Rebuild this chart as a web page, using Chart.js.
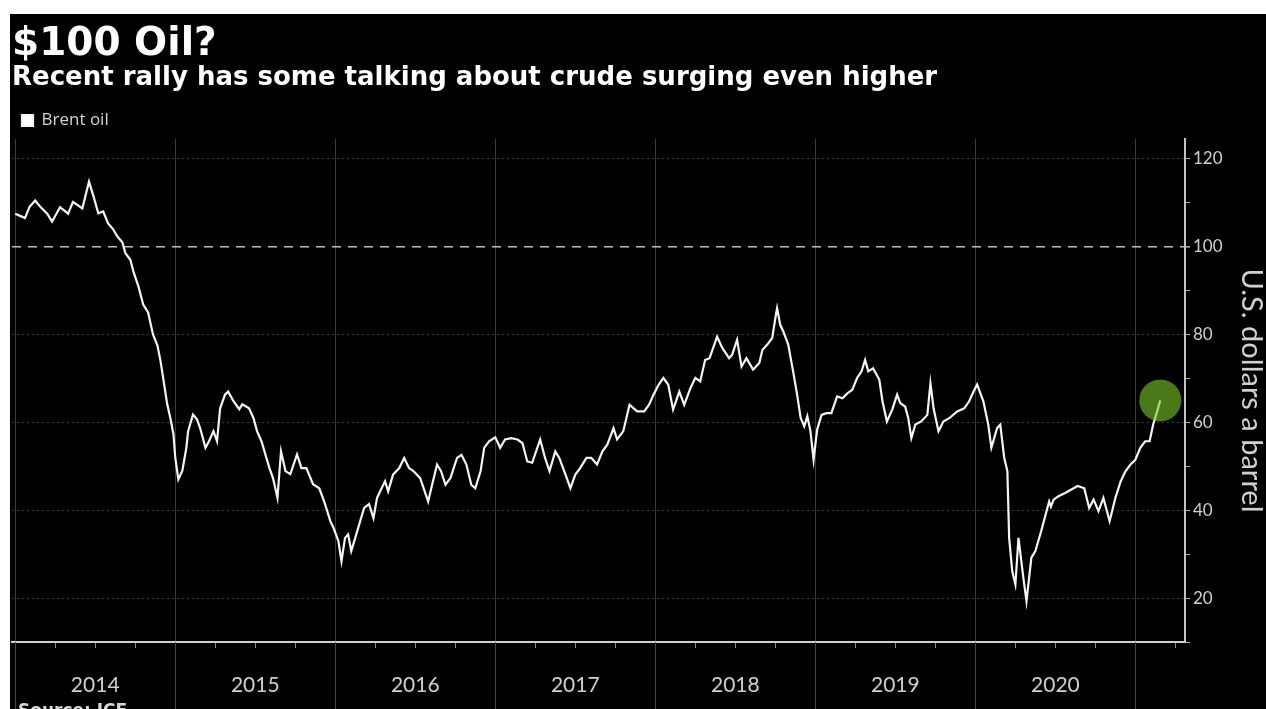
<!DOCTYPE html>
<html>
<head>
<meta charset="utf-8">
<title>$100 Oil?</title>
<script src="https://cdn.jsdelivr.net/npm/chart.js@4.4.0/dist/chart.umd.min.js"></script>
<style>
  html, body { margin: 0; padding: 0; background: #fff; width: 1266px; height: 709px; overflow: hidden; }
  #frame { position: absolute; left: 10px; top: 14px; width: 1256px; height: 695px; background: #000; overflow: hidden; }
  #chartBox { position: absolute; left: 0; top: 0; width: 1256px; height: 695px; }
  #source { position: absolute; left: 8px; top: 688px; color: #d8d8d8; font: bold 17px "DejaVu Sans", sans-serif; line-height: 1; }
</style>
</head>
<body>
<div id="frame">
  <div id="chartBox"><canvas id="oilChart"></canvas></div>
  <div id="source">Source: ICE</div>
</div>
<script>
// Brent crude, USD per barrel
const dates2014 = ['2014-01-01','2014-01-12','2014-01-23','2014-02-03','2014-02-16','2014-02-28','2014-03-13','2014-03-24',
  '2014-04-12','2014-04-30','2014-05-11','2014-06-02','2014-06-17','2014-06-27','2014-07-08','2014-07-19','2014-07-30',
  '2014-08-11','2014-08-21','2014-09-02','2014-09-09','2014-09-20','2014-09-27','2014-10-08','2014-10-19','2014-10-30',
  '2014-11-11','2014-11-21','2014-11-28','2014-12-13','2014-12-20','2014-12-27'];
const brent2014 = [107.5, 107, 106.5, 109, 110.5, 109, 107.5, 105.7, 109, 107.5, 110.2, 108.7, 114.8, 111.5, 107.6, 108, 105.3,
  104, 102.3, 101, 98.5, 97, 94.3, 91, 86.8, 85, 80, 77.5, 73.9, 64.1, 61, 57.3];

const dates2015 = ['2015-01-01','2015-01-08','2015-01-17','2015-01-26','2015-01-30','2015-02-11','2015-02-20','2015-02-27',
  '2015-03-09','2015-03-17','2015-03-27','2015-04-05','2015-04-12','2015-04-23','2015-04-30','2015-05-11','2015-05-25',
  '2015-06-02','2015-06-17','2015-06-27','2015-07-05','2015-07-15','2015-07-26','2015-08-03','2015-08-11','2015-08-21',
  '2015-08-29','2015-09-09','2015-09-20','2015-10-05','2015-10-15','2015-10-26','2015-11-11','2015-11-25','2015-12-06',
  '2015-12-20','2015-12-27'];
const brent2015 = [52, 47, 49, 54.2, 58, 61.8, 60.7, 58.7, 54.2, 55.7, 58, 55.7, 63.2, 66.3, 67, 65, 63, 64.1, 63.2, 61,
  58, 55.7, 51.9, 49.6, 47.3, 42.8, 53.4, 48.9, 48.2, 52.7, 49.6, 49.6, 45.9, 45, 42, 37.5, 36];

const dates2016 = ['2016-01-08','2016-01-15','2016-01-23','2016-01-30','2016-02-07','2016-02-16','2016-02-27','2016-03-06',
  '2016-03-17','2016-03-27','2016-04-05','2016-04-12','2016-04-23','2016-04-30','2016-05-11','2016-05-25','2016-06-06',
  '2016-06-17','2016-06-27','2016-07-12','2016-07-30','2016-08-07','2016-08-20','2016-08-29','2016-09-09','2016-09-20',
  '2016-10-05','2016-10-15','2016-10-26','2016-11-07','2016-11-16','2016-11-28','2016-12-06','2016-12-17'];
const brent2016 = [33, 28.4, 33.7, 34.5, 30.7, 33.7, 37.5, 40.5, 41.4, 38.2, 42.8, 44.3, 46.6, 44.3, 48.1, 49.6, 51.9,
  49.6, 48.9, 47.3, 42, 45, 50.4, 48.9, 45.8, 47.3, 51.9, 52.6, 50.4, 45.8, 45, 48.9, 54.2, 55.7];

const dates2017 = ['2017-01-01','2017-01-12','2017-01-23','2017-02-07','2017-02-21','2017-03-02','2017-03-13','2017-03-24',
  '2017-04-12','2017-04-23','2017-05-03','2017-05-16','2017-05-25','2017-06-09','2017-06-20','2017-07-01','2017-07-12',
  '2017-07-26','2017-08-07','2017-08-20','2017-09-02','2017-09-13','2017-09-27','2017-10-05','2017-10-19','2017-11-03',
  '2017-11-20','2017-12-06','2017-12-17','2017-12-27'];
const brent2017 = [56.6, 54.2, 56.1, 56.4, 56.1, 55.3, 51.1, 50.8, 56.1, 51.9, 48.9, 53.4, 51.9, 48.1, 45, 48.1, 49.6,
  51.9, 51.9, 50.4, 53.4, 54.9, 58.7, 56.1, 58, 64, 62.5, 62.5, 64, 66.3];

const dates2018 = ['2018-01-08','2018-01-19','2018-01-30','2018-02-11','2018-02-25','2018-03-06','2018-03-20','2018-04-01',
  '2018-04-12','2018-04-23','2018-05-03','2018-05-20','2018-06-02','2018-06-17','2018-06-24','2018-07-05','2018-07-15',
  '2018-07-26','2018-08-11','2018-08-25','2018-09-02','2018-09-13','2018-09-24','2018-10-01','2018-10-05','2018-10-12',
  '2018-10-19','2018-10-30','2018-11-11','2018-11-20','2018-11-28','2018-12-06','2018-12-13','2018-12-20','2018-12-27'];
const brent2018 = [68.5, 70.1, 68.6, 62.9, 67, 64, 67.8, 70.1, 69.3, 74.2, 74.6, 79.5, 76.9, 74.6, 75.4, 78.8, 72.7,
  74.6, 72, 73.5, 76.5, 77.7, 79.2, 83.7, 86, 82.2, 80.7, 77.7, 71.6, 66.3, 61, 59.1, 61.4, 58, 51.5];

const dates2019 = ['2019-01-05','2019-01-15','2019-01-26','2019-02-07','2019-02-20','2019-03-02','2019-03-13','2019-03-24',
  '2019-04-05','2019-04-15','2019-04-23','2019-04-30','2019-05-11','2019-05-25','2019-06-02','2019-06-12','2019-06-24',
  '2019-07-05','2019-07-12','2019-07-23','2019-07-30','2019-08-07','2019-08-16','2019-08-29','2019-09-13','2019-09-20',
  '2019-09-27','2019-10-08','2019-10-19','2019-11-03','2019-11-20','2019-12-06','2019-12-17','2019-12-27'];
const brent2019 = [58.3, 61.7, 62.1, 62.1, 65.9, 65.5, 66.6, 67.4, 70.1, 71.6, 74.2, 71.6, 72.3, 69.7, 64.8, 60.2, 62.9,
  66.3, 64.4, 63.6, 61, 56.4, 59.5, 60.2, 61.7, 68.9, 63.2, 58, 60.2, 61, 62.5, 63.2, 64.8, 67];

const dates2020 = ['2020-01-05','2020-01-19','2020-01-30','2020-02-07','2020-02-20','2020-02-27','2020-03-06','2020-03-13',
  '2020-03-17','2020-03-24','2020-04-01','2020-04-08','2020-04-19','2020-04-26','2020-05-07','2020-05-16','2020-05-29',
  '2020-06-09','2020-06-17','2020-06-21','2020-06-27','2020-07-08','2020-07-23','2020-08-07','2020-08-21','2020-09-06',
  '2020-09-17','2020-09-27','2020-10-08','2020-10-19','2020-11-03','2020-11-16','2020-11-28','2020-12-09','2020-12-20'];
const brent2020 = [68.6, 64.8, 59.5, 54.2, 58.7, 59.5, 51.9, 48.9, 33.7, 26.1, 23.1, 33.7, 24.6, 19.3, 29.2, 30.7, 35.2,
  39, 42, 40.8, 42.4, 43.2, 43.9, 44.7, 45.5, 45, 40.5, 42.4, 39.8, 42.8, 37.5, 42.8, 46.6, 48.9, 50.4];

const dates2021 = ['2021-01-01','2021-01-12','2021-01-23','2021-02-03','2021-02-11','2021-02-20','2021-02-27'];
const brent2021 = [51.5, 54.2, 55.7, 55.7, 59.5, 62.5, 65];

const yearLabels = [2014, 2015, 2016, 2017, 2018, 2019, 2020];
const yTickValues = [10, 20, 30, 40, 50, 60, 70, 80, 90, 100, 110, 120];

// date string -> fractional year for the linear x axis
function toYear(d) {
  const [y, m, day] = d.split('-').map(Number);
  return y + (m - 1) / 12 + (day - 1) / 360;
}

const allDates = [].concat(dates2014, dates2015, dates2016, dates2017, dates2018, dates2019, dates2020, dates2021);
const allPrices = [].concat(brent2014, brent2015, brent2016, brent2017, brent2018, brent2019, brent2020, brent2021);
const points = allDates.map((d, i) => ({ x: toYear(d), y: allPrices[i] }));
const lastPoint = points[points.length - 1];

// quarter ticks for the bottom axis
const quarterTicks = [];
yearLabels.concat([2021]).forEach(y => {
  [0, 0.25, 0.5, 0.75].forEach(q => { if (y + q < 2021.3) quarterTicks.push(y + q); });
});

const isWhole = v => Math.abs(v - Math.round(v)) < 1e-6;

// extend the year dividers down through the label strip
const yearLines = {
  id: 'yearLines',
  afterDraw(chart) {
    const xs = chart.scales.x;
    const c = chart.ctx;
    c.save();
    c.strokeStyle = '#474747';
    c.lineWidth = 1;
    xs.ticks.forEach(t => {
      if (!isWhole(t.value)) return;
      const px = Math.round(xs.getPixelForValue(t.value)) + 0.5;
      c.beginPath();
      c.moveTo(px, xs.top);
      c.lineTo(px, xs.bottom);
      c.stroke();
    });
    c.restore();
  }
};

const chart = new Chart(document.getElementById('oilChart'), {
  type: 'line',
  data: {
    datasets: [{
      label: 'Latest',
      data: [lastPoint],
      showLine: false,
      pointRadius: 21,
      pointHoverRadius: 21,
      pointBorderWidth: 0,
      pointBackgroundColor: 'rgba(125, 200, 42, 0.6)',
      order: 0
    }, {
      label: 'Brent oil',
      data: points,
      borderColor: '#f4f4f4',
      backgroundColor: '#ffffff',
      borderWidth: 2.2,
      pointRadius: 0,
      tension: 0,
      order: 1
    }]
  },
  options: {
    responsive: true,
    maintainAspectRatio: false,
    animation: false,
    // the big marker would otherwise push the plot in from the left
    layout: { autoPadding: false, padding: { left: 2, right: 0, top: 0, bottom: 0 } },
    plugins: {
      title: {
        display: true,
        text: '$100 Oil?',
        align: 'start',
        color: '#ffffff',
        font: { family: 'DejaVu Sans', size: 39, weight: 'bold', lineHeight: 1 },
        padding: { top: 11, bottom: 0 }
      },
      subtitle: {
        display: true,
        text: 'Recent rally has some talking about crude surging even higher',
        align: 'start',
        color: '#ffffff',
        font: { family: 'DejaVu Sans', size: 26, weight: 'bold', lineHeight: 1 },
        padding: { top: 1, bottom: 11 }
      },
      legend: {
        position: 'top',
        align: 'start',
        labels: {
          boxWidth: 11,
          boxHeight: 11,
          padding: 10,
          color: '#d4d4d4',
          font: { family: 'Open Sans', size: 17 },
          filter: item => item.text === 'Brent oil'
        }
      },
      tooltip: { enabled: false }
    },
    scales: {
      x: {
        type: 'linear',
        min: 2013.98,
        max: 2021.31,
        afterBuildTicks: s => { s.ticks = quarterTicks.map(v => ({ value: v })); },
        afterFit: s => { s.height = 67; },
        grid: {
          color: ctx => (ctx.tick && isWhole(ctx.tick.value)) ? '#3c3c3c' : 'transparent',
          lineWidth: 1,
          tickLength: 6,
          tickColor: '#8a8a8a'
        },
        border: { color: '#d0d0d0', width: 2 },
        ticks: {
          autoSkip: false,
          maxRotation: 0,
          padding: 0,
          color: '#d0d0d0',
          // tall line box pushes the year labels down into the strip
          font: { family: 'Lato', size: 21, lineHeight: '74px' },
          callback: v => {
            const y = Math.floor(v + 1e-6);
            return (Math.abs(v - y - 0.5) < 1e-6 && yearLabels.includes(y)) ? String(y) : '';
          }
        }
      },
      y: {
        type: 'linear',
        position: 'right',
        min: 10,
        max: 124.5,
        afterBuildTicks: s => { s.ticks = yTickValues.map(v => ({ value: v })); },
        afterFit: s => { s.width = 81; },
        grid: {
          color: ctx => {
            if (!ctx.tick) return 'transparent';
            const v = ctx.tick.value;
            if (v === 100) return '#bdbdbd';
            return v % 20 === 0 ? '#3e3e3e' : 'transparent';
          },
          lineWidth: ctx => (ctx.tick && ctx.tick.value === 100) ? 1.6 : 1,
          tickLength: 5,
          tickColor: '#b0b0b0'
        },
        border: {
          color: '#c4c4c4',
          width: 2,
          dash: ctx => (ctx.tick && ctx.tick.value === 100) ? [9, 7] : [2, 3]
        },
        ticks: {
          padding: 3,
          color: '#d0d0d0',
          font: { family: 'Lato', size: 17 },
          callback: v => (v % 20 === 0 ? v : '')
        },
        title: {
          display: true,
          text: 'U.S. dollars a barrel',
          color: '#d0d0d0',
          font: { family: 'Lato', size: 29, lineHeight: 1 },
          padding: { top: 0, bottom: 0 }
        }
      }
    }
  },
  plugins: [yearLines]
});
</script>
</body>
</html>
